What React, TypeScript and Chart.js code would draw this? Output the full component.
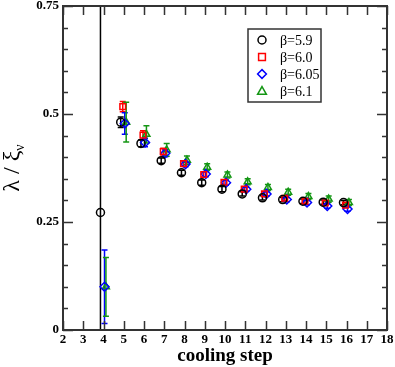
import { useEffect, useRef } from "react";
import { Chart, registerables } from "chart.js";

Chart.register(...registerables);

const steps = [4, 5, 6, 7, 8, 9, 10, 11, 12, 13, 14, 15, 16];
const beta59 = [0.272, 0.481, 0.432, 0.392, 0.364, 0.341, 0.326, 0.315, 0.306, 0.302, 0.298, 0.296, 0.295];
const beta59Err = [1.0, 0.012, 0.008, 0.006, 0.006, 0.006, 0.006, 0.005, 0.005, 0.005, 0.005, 0.005, 0.005];
const beta60 = [null, 0.517, 0.451, 0.413, 0.385, 0.36, 0.342, 0.326, 0.315, 0.305, 0.298, 0.294, 0.289];
const beta60Err = [null, 0.012, 0.01, 0.008, 0.006, 0.006, 0.005, 0.005, 0.005, 0.005, 0.005, 0.005, 0.005];
const beta605 = [0.1, 0.478, 0.434, 0.409, 0.384, 0.361, 0.341, 0.326, 0.315, 0.302, 0.295, 0.287, 0.28];
const beta605Err = [0.085, 0.025, 0.01, 0.008, 0.006, 0.006, 0.006, 0.005, 0.005, 0.005, 0.005, 0.005, 0.005];
const beta61 = [0.1, 0.481, 0.453, 0.417, 0.393, 0.377, 0.359, 0.343, 0.33, 0.319, 0.309, 0.303, 0.295];
const beta61Err = [0.068, 0.046, 0.02, 0.015, 0.01, 0.008, 0.007, 0.007, 0.007, 0.007, 0.007, 0.007, 0.007];

const seriesLabels = ["β=5.9", "β=6.0", "β=6.05", "β=6.1"];
const seriesColors = ["#000000", "#ff0000", "#0000ff", "rgb(20,150,20)"];
const seriesShapes = ["circle", "rect", "rectRot", "triangle"];
const seriesOffsets = [-0.15, -0.05, 0.05, 0.12];
const seriesValues = [beta59, beta60, beta605, beta61];
const seriesErrors = [beta59Err, beta60Err, beta605Err, beta61Err];

const xMin = 2;
const xMax = 18;
const yMin = 0;
const yMax = 0.75;
const yLabelValues = [0, 0.25, 0.5, 0.75];
const yMinorStep = 0.05;

const FONT = "'Liberation Serif', 'Times New Roman', serif";
const FRAME = "#333333";

function drawMarker(ctx: CanvasRenderingContext2D, shape: string, x: number, y: number, r: number) {
  ctx.beginPath();
  if (shape === "circle") {
    ctx.arc(x, y, r, 0, Math.PI * 2);
  } else if (shape === "rect") {
    ctx.rect(x - r * 0.85, y - r * 0.85, r * 1.7, r * 1.7);
  } else if (shape === "rectRot") {
    ctx.moveTo(x, y - r * 1.1);
    ctx.lineTo(x + r * 1.1, y);
    ctx.lineTo(x, y + r * 1.1);
    ctx.lineTo(x - r * 1.1, y);
    ctx.closePath();
  } else {
    const h = r * 1.1;
    ctx.moveTo(x, y - h);
    ctx.lineTo(x + h, y + h * 0.75);
    ctx.lineTo(x - h, y + h * 0.75);
    ctx.closePath();
  }
  ctx.stroke();
}

const errorBarPlugin = {
  id: "errorBars",
  beforeDatasetsDraw(chart: any) {
    const { ctx, chartArea, scales } = chart;
    ctx.save();
    ctx.beginPath();
    ctx.rect(chartArea.left, chartArea.top, chartArea.right - chartArea.left, chartArea.bottom - chartArea.top);
    ctx.clip();
    chart.data.datasets.forEach((ds: any) => {
      ctx.strokeStyle = ds.borderColor;
      ctx.lineWidth = 1.5;
      ds.data.forEach((p: any) => {
        if (p.y == null || p.err == null) return;
        const x = scales.x.getPixelForValue(p.x);
        const y1 = scales.y.getPixelForValue(p.y + p.err);
        const y2 = scales.y.getPixelForValue(p.y - p.err);
        ctx.beginPath();
        ctx.moveTo(x, y1);
        ctx.lineTo(x, y2);
        ctx.moveTo(x - 3, y1);
        ctx.lineTo(x + 3, y1);
        ctx.moveTo(x - 3, y2);
        ctx.lineTo(x + 3, y2);
        ctx.stroke();
      });
    });
    ctx.restore();
  },
};

const framePlugin = {
  id: "frame",
  afterDraw(chart: any) {
    const { ctx, chartArea, scales } = chart;
    const { left, right, top, bottom } = chartArea;
    ctx.save();
    ctx.strokeStyle = FRAME;
    ctx.lineWidth = 1.5;
    for (let v = xMin; v <= xMax; v++) {
      const x = Math.round(scales.x.getPixelForValue(v)) + 0.5;
      ctx.beginPath();
      ctx.moveTo(x, bottom);
      ctx.lineTo(x, bottom - 9);
      ctx.moveTo(x, top);
      ctx.lineTo(x, top + 9);
      ctx.stroke();
    }
    const n = Math.round((yMax - yMin) / yMinorStep);
    for (let i = 0; i <= n; i++) {
      const v = yMin + i * yMinorStep;
      const major = yLabelValues.some((m) => Math.abs(m - v) < 1e-9);
      const len = major ? 10 : 5;
      const y = Math.round(scales.y.getPixelForValue(v)) + 0.5;
      ctx.beginPath();
      ctx.moveTo(left, y);
      ctx.lineTo(left + len, y);
      ctx.moveTo(right, y);
      ctx.lineTo(right - len, y);
      ctx.stroke();
    }
    ctx.lineWidth = 2;
    ctx.strokeRect(left, top, right - left, bottom - top);

    // legend
    const bx = 248, by = 29, bw = 73, bh = 73;
    ctx.fillStyle = "#ffffff";
    ctx.fillRect(bx, by, bw, bh);
    ctx.lineWidth = 1.5;
    ctx.strokeStyle = FRAME;
    ctx.strokeRect(bx, by, bw, bh);
    ctx.font = `14px ${FONT}`;
    ctx.textBaseline = "middle";
    ctx.textAlign = "left";
    seriesLabels.forEach((label, i) => {
      const cy = by + 11 + i * 17;
      ctx.save();
      ctx.lineWidth = 1.5;
      ctx.strokeStyle = seriesColors[i];
      drawMarker(ctx, seriesShapes[i], 262, cy, 4);
      ctx.restore();
      ctx.fillStyle = "#000000";
      ctx.fillText(label, 280, cy + 1);
    });

    // axis titles
    ctx.fillStyle = "#000000";
    ctx.font = `bold 19px ${FONT}`;
    ctx.textAlign = "center";
    ctx.textBaseline = "alphabetic";
    ctx.fillText("cooling step", (left + right) / 2, 361);

    ctx.save();
    ctx.translate(19, (top + bottom) / 2);
    ctx.rotate(-Math.PI / 2);
    ctx.font = `24px ${FONT}`;
    const main = "λ / ξ";
    const mw = ctx.measureText(main).width;
    ctx.font = `14px ${FONT}`;
    const sw = ctx.measureText("ν").width;
    const start = -(mw + sw) / 2;
    ctx.textAlign = "left";
    ctx.font = `24px ${FONT}`;
    ctx.fillText(main, start, 0);
    ctx.font = `14px ${FONT}`;
    ctx.fillText("ν", start + mw, 5);
    ctx.restore();
    ctx.restore();
  },
};

export default function App() {
  const ref = useRef<HTMLCanvasElement | null>(null);
  useEffect(() => {
    if (!ref.current) return;
    const datasets = seriesLabels.map((label, i) => ({
      label,
      data: steps
        .map((s, j) => ({ x: s + seriesOffsets[i], y: seriesValues[i][j], err: seriesErrors[i][j] }))
        .filter((p) => p.y != null),
      borderColor: seriesColors[i],
      backgroundColor: "rgba(0,0,0,0)",
      pointStyle: seriesShapes[i],
      pointRadius: i === 2 ? 4.5 : 4,
      pointBorderWidth: 1.5,
      showLine: false,
    }));
    const chart = new Chart(ref.current, {
      type: "scatter",
      data: { datasets },
      plugins: [errorBarPlugin, framePlugin],
      options: {
        animation: false,
        responsive: false,
        layout: { padding: { top: 6, right: 8, left: 0, bottom: 0 } },
        plugins: { legend: { display: false }, tooltip: { enabled: false } },
        scales: {
          x: {
            type: "linear",
            min: xMin,
            max: xMax,
            grid: { display: false, drawTicks: false },
            border: { display: false },
            ticks: {
              stepSize: 1,
              padding: 2,
              color: "#000",
              font: { family: FONT, size: 13, weight: "bold" },
              maxRotation: 0,
              autoSkip: false,
            },
            afterFit: (s: any) => {
              s.height = 37;
              s.paddingLeft = 0;
              s.paddingRight = 0;
            },
          },
          y: {
            type: "linear",
            min: yMin,
            max: yMax,
            grid: { display: false, drawTicks: false },
            border: { display: false },
            afterBuildTicks: (s: any) => {
              s.ticks = yLabelValues.map((v) => ({ value: v }));
            },
            ticks: {
              padding: 4,
              color: "#000",
              font: { family: FONT, size: 13, weight: "bold" },
              callback: (v: any) => String(v),
            },
            afterFit: (s: any) => {
              s.width = 63;
              s.paddingTop = 0;
              s.paddingBottom = 0;
            },
          },
        },
      } as any,
    });
    return () => chart.destroy();
  }, []);
  return (
    <div style={{ position: "fixed", left: 0, top: 0, width: 395, height: 367, background: "#fff" }}>
      <canvas ref={ref} width={395} height={367} />
    </div>
  );
}
